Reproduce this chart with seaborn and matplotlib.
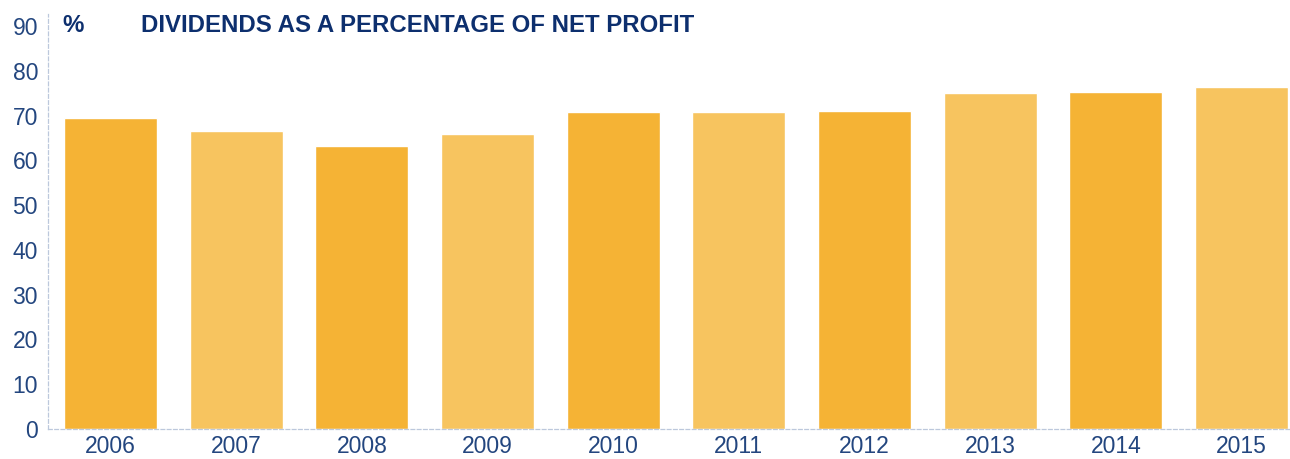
import pandas as pd
import seaborn as sns
import matplotlib.pyplot as plt

years = ['2006', '2007', '2008', '2009', '2010', '2011', '2012', '2013', '2014', '2015']
payout = [69.4, 66.6, 63.3, 66.0, 70.9, 70.9, 71.1, 75.0, 75.2, 76.5]
bar_colors = ['#F5B335', '#F7C45F'] * 5

df = pd.DataFrame({'year': years, 'payout': payout})

sns.set_style('white')
plt.rcParams['font.family'] = ['Liberation Sans', 'DejaVu Sans']

fig = plt.figure(figsize=(12.9, 4.59), dpi=100)
ax = fig.add_axes([0.037, 0.0654, 0.963, 0.904])

sns.barplot(data=df, x='year', y='payout', hue='year', palette=bar_colors,
            width=0.74, saturation=1, legend=False, ax=ax)

ax.set_xlim(-0.5, 9.386)
ax.set_ylim(0, 92.7)
ax.set_yticks(range(0, 91, 10))
ax.set_xlabel('')
ax.set_ylabel('')

tick_col = '#23467F'
ax.tick_params(axis='y', length=0, pad=7, labelsize=16.5, labelcolor=tick_col)
ax.tick_params(axis='x', length=0, pad=4, labelsize=16.5, labelcolor=tick_col)

for s in ['top', 'right']:
    ax.spines[s].set_visible(False)
for s in ['left', 'bottom']:
    ax.spines[s].set_linestyle((0, (3, 2)))
    ax.spines[s].set_color('#BCC8DC')
    ax.spines[s].set_linewidth(0.9)

title_col = '#0D2F6E'
fig.text(62 / 1290, 1 - 25.5 / 459, '%', fontsize=17.3, fontweight='bold',
         color=title_col, va='center', ha='left')
fig.text(141 / 1290, 1 - 25.5 / 459, 'DIVIDENDS AS A PERCENTAGE OF NET PROFIT',
         fontsize=17.3, fontweight='bold', color=title_col, va='center', ha='left')

fig.savefig('out.png', dpi=100)
